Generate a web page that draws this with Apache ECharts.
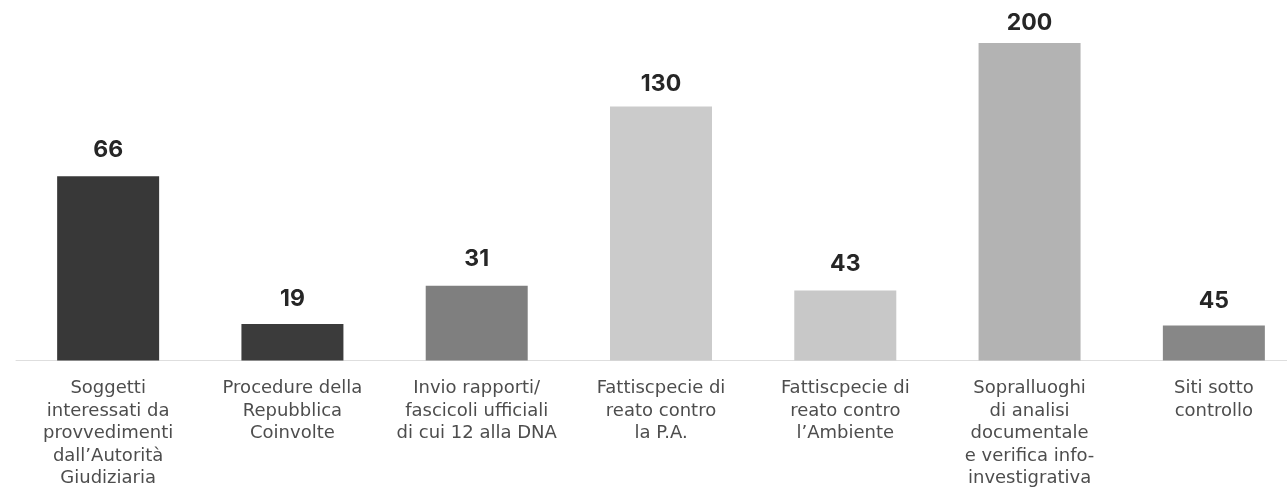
<!DOCTYPE html>
<html>
<head>
<meta charset="utf-8">
<script src="https://cdn.jsdelivr.net/npm/echarts@6/dist/echarts.min.js"></script>
<style>
  html, body { margin: 0; padding: 0; background: #fff; overflow: hidden; }
  #chart { width: 1310px; height: 490px; }
</style>
</head>
<body>
<div id="chart"></div>
<script>
// categorie (asse x)
const categories = [
  'Soggetti\ninteressati da\nprovvedimenti\ndall\u2019Autorit\u00e0\nGiudiziaria',
  'Procedure della\nRepubblica\nCoinvolte',
  'Invio rapporti/\nfascicoli ufficiali\ndi cui 12 alla DNA',
  'Fattiscpecie di\nreato contro\nla P.A.',
  'Fattiscpecie di\nreato contro\nl\u2019Ambiente',
  'Sopralluoghi\ndi analisi\ndocumentale\ne verifica info-\ninvestigrativa',
  'Siti sotto\ncontrollo'
];
// valori scritti sopra le barre
const values = [66, 19, 31, 130, 43, 200, 45];
// altezza disegnata delle barre (nel grafico originale non sono proporzionali ai valori)
const barHeights = [116, 23, 47, 160, 44, 200, 22];
const barColors = ['#383838', '#3b3b3b', '#7f7f7f', '#cbcbcb', '#c8c8c8', '#b3b3b3', '#878787'];

const chart = echarts.init(document.getElementById('chart'));

// le etichette delle barre alte stanno un po' più vicine
function labelDistance(i) {
  if (i === 5) return 8;
  if (i === 3) return 11;
  if (i === 1 || i === 6) return 13;
  return 15;
}

const option = {
  animation: false,
  grid: {
    left: 16,
    top: 0,
    width: 1290,
    height: 361
  },
  xAxis: {
    type: 'category',
    data: categories,
    axisLine: { lineStyle: { color: '#dedede', width: 1 } },
    axisTick: { show: false },
    axisLabel: {
      interval: 0,
      margin: 17,
      color: '#4d4d4d',
      fontFamily: 'DejaVu Sans',
      fontSize: 18,
      lineHeight: 22.5,
      verticalAlign: 'top'
    }
  },
  yAxis: {
    type: 'value',
    min: 0,
    max: 227,
    show: false,
    splitLine: { show: false }
  },
  series: [
    {
      type: 'bar',
      barWidth: 102,
      data: barHeights.map((h, i) => ({
        value: h,
        itemStyle: { color: barColors[i] },
        label: { distance: labelDistance(i) }
      })),
      label: {
        show: true,
        position: 'top',
        color: '#262626',
        fontFamily: 'Inter',
        fontWeight: 'bold',
        fontSize: 23,
        formatter: (p) => String(values[p.dataIndex])
      }
    }
  ]
};

chart.setOption(option);
</script>
</body>
</html>
